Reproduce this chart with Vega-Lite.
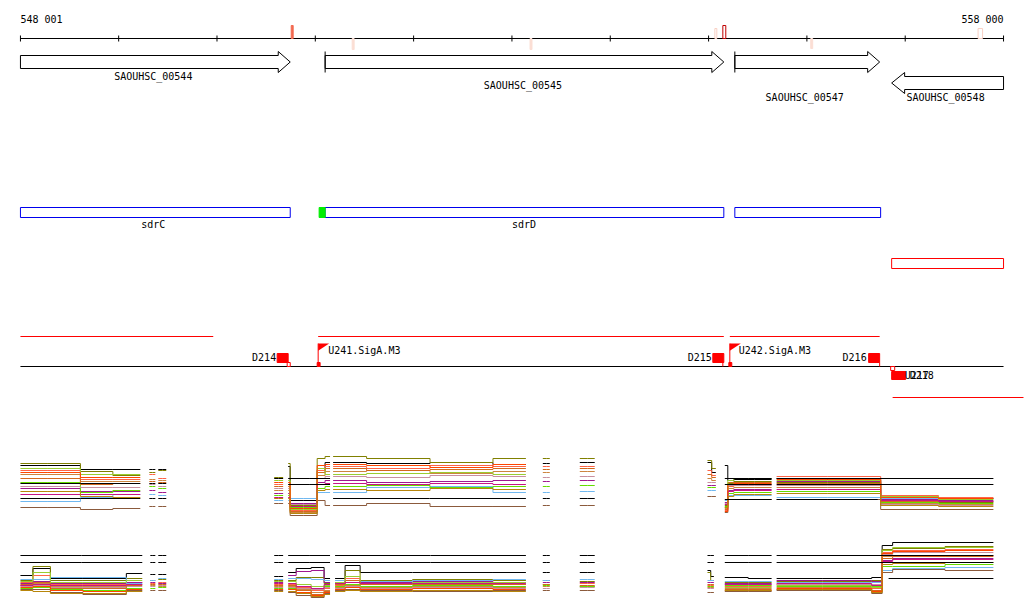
{
"$schema":"https://vega.github.io/schema/vega-lite/v6.json",
"width":1024,"height":611,"padding":0,
"autosize":{"type":"fit","contains":"padding"},
"background":"white",
"config":{"view":{"stroke":null},"text":{"font":"DejaVu Sans Mono","fontSize":10,"color":"black"}},
"resolve":{"scale":{"color":"independent","fill":"independent","stroke":"independent"}},
"datasets":{
"hl":[
{"k":"black","x":548001,"x2":558000,"y":38},
{"k":"black","x":548001,"x2":558000,"y":366},
{"k":"red","x":548001,"x2":549962,"y":336},
{"k":"red","x":551029,"x2":555155,"y":336},
{"k":"red","x":555216,"x2":556740,"y":336},
{"k":"red","x":556872,"x2":558203,"y":397}
],
"vl":[
{"k":"black","x":548001,"y":35,"y2":41},{"k":"black","x":549000,"y":35,"y2":41},{"k":"black","x":550000,"y":35,"y2":41},{"k":"black","x":551000,"y":35,"y2":41},{"k":"black","x":552000,"y":35,"y2":41},{"k":"black","x":553000,"y":35,"y2":41},{"k":"black","x":554000,"y":35,"y2":41},{"k":"black","x":555000,"y":35,"y2":41},{"k":"black","x":556000,"y":35,"y2":41},{"k":"black","x":557000,"y":35,"y2":41},{"k":"black","x":558000,"y":35,"y2":41},
{"k":"black","x":551100,"y":51,"y2":72},
{"k":"black","x":555267,"y":51,"y2":72},
{"k":"red","x":551029,"y":343,"y2":366},
{"k":"red","x":555216,"y":343,"y2":366},
{"k":"red","x":555145,"y":362,"y2":366},
{"k":"red","x":556740,"y":362,"y2":366}
],
"rects":[
{"k":"m1","x":550755,"x2":550775,"y":25,"y2":38},
{"k":"m2","x":551375,"x2":551395,"y":38,"y2":49},
{"k":"m2","x":553184,"x2":553204,"y":38,"y2":49},
{"k":"m3","x":555064,"x2":555084,"y":28,"y2":38},
{"k":"m4","x":555145,"x2":555175,"y":25,"y2":38},
{"k":"m2","x":556039,"x2":556059,"y":38,"y2":48},
{"k":"m3","x":557741,"x2":557787,"y":28,"y2":38},
{"k":"blue","x":548001,"x2":550745,"y":207,"y2":217},
{"k":"blue","x":551100,"x2":555155,"y":207,"y2":217},
{"k":"blue","x":555267,"x2":556750,"y":207,"y2":217},
{"k":"green","x":551039,"x2":551100,"y":207,"y2":217},
{"k":"redbox","x":556862,"x2":558000,"y":258,"y2":268},
{"k":"term","x":550612,"x2":550724,"y":353,"y2":362},
{"k":"termo","x":550714,"x2":550745,"y":362,"y2":366},
{"k":"term","x":555043,"x2":555155,"y":353,"y2":362},
{"k":"term","x":556628,"x2":556740,"y":353,"y2":362},
{"k":"term","x":551019,"x2":551049,"y":362,"y2":366},
{"k":"term","x":555206,"x2":555236,"y":362,"y2":366},
{"k":"term","x":556862,"x2":557004,"y":371,"y2":379},
{"k":"termo","x":556852,"x2":556893,"y":366,"y2":370}
],
"arrows":[
{"g":"a544","i":0,"x":548001,"y":55},{"g":"a544","i":1,"x":550623,"y":55},{"g":"a544","i":2,"x":550623,"y":51},{"g":"a544","i":3,"x":550745,"y":61.5},{"g":"a544","i":4,"x":550623,"y":72},{"g":"a544","i":5,"x":550623,"y":68},{"g":"a544","i":6,"x":548001,"y":68},{"g":"a544","i":7,"x":548001,"y":55},
{"g":"a545","i":0,"x":551100,"y":55},{"g":"a545","i":1,"x":555033,"y":55},{"g":"a545","i":2,"x":555033,"y":51},{"g":"a545","i":3,"x":555155,"y":61.5},{"g":"a545","i":4,"x":555033,"y":72},{"g":"a545","i":5,"x":555033,"y":68},{"g":"a545","i":6,"x":551100,"y":68},{"g":"a545","i":7,"x":551100,"y":55},
{"g":"a547","i":0,"x":555267,"y":55},{"g":"a547","i":1,"x":556618,"y":55},{"g":"a547","i":2,"x":556618,"y":51},{"g":"a547","i":3,"x":556740,"y":61.5},{"g":"a547","i":4,"x":556618,"y":72},{"g":"a547","i":5,"x":556618,"y":68},{"g":"a547","i":6,"x":555267,"y":68},{"g":"a547","i":7,"x":555267,"y":55},
{"g":"a548","i":0,"x":558000,"y":76},{"g":"a548","i":1,"x":556994,"y":76},{"g":"a548","i":2,"x":556994,"y":72},{"g":"a548","i":3,"x":556862,"y":82.5},{"g":"a548","i":4,"x":556994,"y":93},{"g":"a548","i":5,"x":556994,"y":89},{"g":"a548","i":6,"x":558000,"y":89},{"g":"a548","i":7,"x":558000,"y":76}
],
"flags":[{"x":551029,"y":343},{"x":555216,"y":343}],
"txtL":[
{"t":"548 001","x":548001,"y":19},
{"t":"U241.SigA.M3","x":551131,"y":350},
{"t":"U242.SigA.M3","x":555307,"y":350},
{"t":"U217","x":556994,"y":375},
{"t":"D218","x":557045,"y":375}
],
"txtC":[
{"t":"SAOUHSC_00544","x":549352,"y":76},
{"t":"SAOUHSC_00545","x":553112,"y":85},
{"t":"SAOUHSC_00547","x":555978,"y":97},
{"t":"SAOUHSC_00548","x":557410,"y":97},
{"t":"sdrC","x":549352,"y":224},
{"t":"sdrD","x":553122,"y":224}
],
"txtR":[
{"t":"558 000","x":558000,"y":19},
{"t":"D214","x":550602,"y":357},
{"t":"D215","x":555033,"y":357},
{"t":"D216","x":556608,"y":357}
],
"ex":[
{"s":"k","g":"tA","x":548001,"y":465},{"s":"k","g":"tA","x":548560,"y":465},{"s":"k","g":"tA","x":548662,"y":469},{"s":"k","g":"tA","x":549220,"y":469},
{"s":"k","g":"tB","x":549312,"y":469},{"s":"k","g":"tB","x":549373,"y":469},
{"s":"k","g":"tC","x":549403,"y":469},{"s":"k","g":"tC","x":549484,"y":469},
{"s":"k","g":"tD","x":550582,"y":478},{"s":"k","g":"tD","x":550673,"y":478},
{"s":"k","g":"tE","x":550724,"y":466},{"s":"k","g":"tE","x":550765,"y":500},{"s":"k","g":"tE","x":550989,"y":500},{"s":"k","g":"tE","x":551049,"y":470},{"s":"k","g":"tE","x":551150,"y":462},
{"s":"k","g":"tG","x":551181,"y":462},{"s":"k","g":"tG","x":551862,"y":463},{"s":"k","g":"tG","x":552472,"y":462},{"s":"k","g":"tG","x":553142,"y":464},
{"s":"k","g":"tH","x":553314,"y":463},{"s":"k","g":"tH","x":553385,"y":463},
{"s":"k","g":"tI","x":553690,"y":462},{"s":"k","g":"tI","x":553842,"y":462},
{"s":"k","g":"tJ","x":554989,"y":462},{"s":"k","g":"tJ","x":555074,"y":472},
{"s":"k","g":"tK","x":555165,"y":465},{"s":"k","g":"tK","x":555226,"y":480},{"s":"k","g":"tK","x":555287,"y":479},{"s":"k","g":"tK","x":555641,"y":479},
{"s":"k","g":"tL","x":555692,"y":478},{"s":"k","g":"tL","x":556720,"y":479},{"s":"k","g":"tL","x":556781,"y":497},{"s":"k","g":"tL","x":557897,"y":498},

{"s":"o","g":"tA","x":548001,"y":463},{"s":"o","g":"tA","x":548560,"y":463},{"s":"o","g":"tA","x":548662,"y":471},{"s":"o","g":"tA","x":549220,"y":475},
{"s":"o","g":"tB","x":549312,"y":472},{"s":"o","g":"tB","x":549373,"y":472},
{"s":"o","g":"tC","x":549403,"y":470},{"s":"o","g":"tC","x":549484,"y":470},
{"s":"o","g":"tD","x":550582,"y":477},{"s":"o","g":"tD","x":550673,"y":477},
{"s":"o","g":"tE","x":550724,"y":463},{"s":"o","g":"tE","x":550765,"y":505},{"s":"o","g":"tE","x":550989,"y":505},{"s":"o","g":"tE","x":551049,"y":458},{"s":"o","g":"tE","x":551150,"y":456},
{"s":"o","g":"tG","x":551181,"y":456},{"s":"o","g":"tG","x":551862,"y":458},{"s":"o","g":"tG","x":552472,"y":462},{"s":"o","g":"tG","x":553142,"y":458},
{"s":"o","g":"tH","x":553314,"y":458},{"s":"o","g":"tH","x":553385,"y":458},
{"s":"o","g":"tI","x":553690,"y":458},{"s":"o","g":"tI","x":553842,"y":458},
{"s":"o","g":"tJ","x":554989,"y":460},{"s":"o","g":"tJ","x":555074,"y":468},
{"s":"o","g":"tK","x":555165,"y":505},{"s":"o","g":"tK","x":555226,"y":483},{"s":"o","g":"tK","x":555287,"y":481},{"s":"o","g":"tK","x":555641,"y":481},
{"s":"o","g":"tL","x":555692,"y":482},{"s":"o","g":"tL","x":556720,"y":482},{"s":"o","g":"tL","x":556781,"y":500},{"s":"o","g":"tL","x":557897,"y":502},

{"s":"t","g":"tA","x":548001,"y":470},{"s":"t","g":"tA","x":548560,"y":470},{"s":"t","g":"tA","x":548662,"y":479},{"s":"t","g":"tA","x":549220,"y":479},
{"s":"t","g":"tB","x":549312,"y":474},{"s":"t","g":"tB","x":549373,"y":474},
{"s":"t","g":"tC","x":549403,"y":478},{"s":"t","g":"tC","x":549484,"y":478},
{"s":"t","g":"tD","x":550582,"y":484},{"s":"t","g":"tD","x":550673,"y":484},
{"s":"t","g":"tE","x":550724,"y":484},{"s":"t","g":"tE","x":550765,"y":510},{"s":"t","g":"tE","x":550989,"y":510},{"s":"t","g":"tE","x":551049,"y":470},{"s":"t","g":"tE","x":551150,"y":466},
{"s":"t","g":"tG","x":551181,"y":466},{"s":"t","g":"tG","x":551862,"y":468},{"s":"t","g":"tG","x":552472,"y":465},{"s":"t","g":"tG","x":553142,"y":466},
{"s":"t","g":"tH","x":553314,"y":466},{"s":"t","g":"tH","x":553385,"y":466},
{"s":"t","g":"tI","x":553690,"y":466},{"s":"t","g":"tI","x":553842,"y":466},
{"s":"t","g":"tJ","x":554989,"y":470},{"s":"t","g":"tJ","x":555074,"y":475},
{"s":"t","g":"tK","x":555165,"y":510},{"s":"t","g":"tK","x":555226,"y":486},{"s":"t","g":"tK","x":555287,"y":484},{"s":"t","g":"tK","x":555641,"y":484},
{"s":"t","g":"tL","x":555692,"y":476},{"s":"t","g":"tL","x":556720,"y":476},{"s":"t","g":"tL","x":556781,"y":495},{"s":"t","g":"tL","x":557897,"y":497},

{"s":"p","g":"tA","x":548001,"y":474},{"s":"p","g":"tA","x":548560,"y":474},{"s":"p","g":"tA","x":548662,"y":481},{"s":"p","g":"tA","x":549220,"y":481},
{"s":"p","g":"tB","x":549312,"y":479},{"s":"p","g":"tB","x":549373,"y":479},
{"s":"p","g":"tC","x":549403,"y":480},{"s":"p","g":"tC","x":549484,"y":480},
{"s":"p","g":"tD","x":550582,"y":490},{"s":"p","g":"tD","x":550673,"y":490},
{"s":"p","g":"tE","x":550724,"y":490},{"s":"p","g":"tE","x":550765,"y":512},{"s":"p","g":"tE","x":550989,"y":512},{"s":"p","g":"tE","x":551049,"y":475},{"s":"p","g":"tE","x":551150,"y":471},
{"s":"p","g":"tG","x":551181,"y":471},{"s":"p","g":"tG","x":551862,"y":470},{"s":"p","g":"tG","x":552472,"y":473},{"s":"p","g":"tG","x":553142,"y":471},
{"s":"p","g":"tH","x":553314,"y":472},{"s":"p","g":"tH","x":553385,"y":472},
{"s":"p","g":"tI","x":553690,"y":471},{"s":"p","g":"tI","x":553842,"y":471},
{"s":"p","g":"tJ","x":554989,"y":478},{"s":"p","g":"tJ","x":555074,"y":480},
{"s":"p","g":"tK","x":555165,"y":508},{"s":"p","g":"tK","x":555226,"y":488},{"s":"p","g":"tK","x":555287,"y":487},{"s":"p","g":"tK","x":555641,"y":487},
{"s":"p","g":"tL","x":555692,"y":487},{"s":"p","g":"tL","x":556720,"y":487},{"s":"p","g":"tL","x":556781,"y":503},{"s":"p","g":"tL","x":557897,"y":504},

{"s":"m","g":"tA","x":548001,"y":488},{"s":"m","g":"tA","x":548560,"y":488},{"s":"m","g":"tA","x":548662,"y":491},{"s":"m","g":"tA","x":549220,"y":491},
{"s":"m","g":"tB","x":549312,"y":490},{"s":"m","g":"tB","x":549373,"y":490},
{"s":"m","g":"tC","x":549403,"y":492},{"s":"m","g":"tC","x":549484,"y":492},
{"s":"m","g":"tD","x":550582,"y":493},{"s":"m","g":"tD","x":550673,"y":493},
{"s":"m","g":"tE","x":550724,"y":493},{"s":"m","g":"tE","x":550765,"y":503},{"s":"m","g":"tE","x":550989,"y":503},{"s":"m","g":"tE","x":551049,"y":482},{"s":"m","g":"tE","x":551150,"y":480},
{"s":"m","g":"tG","x":551181,"y":480},{"s":"m","g":"tG","x":551862,"y":482},{"s":"m","g":"tG","x":552472,"y":481},{"s":"m","g":"tG","x":553142,"y":480},
{"s":"m","g":"tH","x":553314,"y":481},{"s":"m","g":"tH","x":553385,"y":481},
{"s":"m","g":"tI","x":553690,"y":480},{"s":"m","g":"tI","x":553842,"y":480},
{"s":"m","g":"tJ","x":554989,"y":485},{"s":"m","g":"tJ","x":555074,"y":485},
{"s":"m","g":"tK","x":555165,"y":502},{"s":"m","g":"tK","x":555226,"y":490},{"s":"m","g":"tK","x":555287,"y":489},{"s":"m","g":"tK","x":555641,"y":489},
{"s":"m","g":"tL","x":555692,"y":481},{"s":"m","g":"tL","x":556720,"y":481},{"s":"m","g":"tL","x":556781,"y":499},{"s":"m","g":"tL","x":557897,"y":500},

{"s":"b","g":"tA","x":548001,"y":501},{"s":"b","g":"tA","x":548560,"y":501},{"s":"b","g":"tA","x":548662,"y":497},{"s":"b","g":"tA","x":549220,"y":494},
{"s":"b","g":"tB","x":549312,"y":494},{"s":"b","g":"tB","x":549373,"y":494},
{"s":"b","g":"tC","x":549403,"y":495},{"s":"b","g":"tC","x":549484,"y":495},
{"s":"b","g":"tD","x":550582,"y":500},{"s":"b","g":"tD","x":550673,"y":500},
{"s":"b","g":"tE","x":550724,"y":500},{"s":"b","g":"tE","x":550765,"y":498},{"s":"b","g":"tE","x":550989,"y":498},{"s":"b","g":"tE","x":551049,"y":492},{"s":"b","g":"tE","x":551150,"y":492},
{"s":"b","g":"tG","x":551181,"y":492},{"s":"b","g":"tG","x":551862,"y":487},{"s":"b","g":"tG","x":552472,"y":486},{"s":"b","g":"tG","x":553142,"y":492},
{"s":"b","g":"tH","x":553314,"y":492},{"s":"b","g":"tH","x":553385,"y":492},
{"s":"b","g":"tI","x":553690,"y":491},{"s":"b","g":"tI","x":553842,"y":491},
{"s":"b","g":"tJ","x":554989,"y":490},{"s":"b","g":"tJ","x":555074,"y":490},
{"s":"b","g":"tK","x":555165,"y":500},{"s":"b","g":"tK","x":555226,"y":495},{"s":"b","g":"tK","x":555287,"y":495},{"s":"b","g":"tK","x":555641,"y":495},
{"s":"b","g":"tL","x":555692,"y":497},{"s":"b","g":"tL","x":556720,"y":497},{"s":"b","g":"tL","x":556781,"y":498},{"s":"b","g":"tL","x":557897,"y":498},

{"s":"g","g":"tA","x":548001,"y":482},{"s":"g","g":"tA","x":548560,"y":482},{"s":"g","g":"tA","x":548662,"y":492},{"s":"g","g":"tA","x":549220,"y":490},
{"s":"g","g":"tB","x":549312,"y":486},{"s":"g","g":"tB","x":549373,"y":486},
{"s":"g","g":"tC","x":549403,"y":488},{"s":"g","g":"tC","x":549484,"y":488},
{"s":"g","g":"tD","x":550582,"y":495},{"s":"g","g":"tD","x":550673,"y":495},
{"s":"g","g":"tE","x":550724,"y":495},{"s":"g","g":"tE","x":550765,"y":507},{"s":"g","g":"tE","x":550989,"y":507},{"s":"g","g":"tE","x":551049,"y":488},{"s":"g","g":"tE","x":551150,"y":486},
{"s":"g","g":"tG","x":551181,"y":486},{"s":"g","g":"tG","x":551862,"y":485},{"s":"g","g":"tG","x":552472,"y":487},{"s":"g","g":"tG","x":553142,"y":486},
{"s":"g","g":"tH","x":553314,"y":486},{"s":"g","g":"tH","x":553385,"y":486},
{"s":"g","g":"tI","x":553690,"y":485},{"s":"g","g":"tI","x":553842,"y":485},
{"s":"g","g":"tJ","x":554989,"y":487},{"s":"g","g":"tJ","x":555074,"y":487},
{"s":"g","g":"tK","x":555165,"y":506},{"s":"g","g":"tK","x":555226,"y":493},{"s":"g","g":"tK","x":555287,"y":492},{"s":"g","g":"tK","x":555641,"y":492},
{"s":"g","g":"tL","x":555692,"y":491},{"s":"g","g":"tL","x":556720,"y":491},{"s":"g","g":"tL","x":556781,"y":502},{"s":"g","g":"tL","x":557897,"y":503},

{"s":"r","g":"tA","x":548001,"y":486},{"s":"r","g":"tA","x":548560,"y":486},{"s":"r","g":"tA","x":548662,"y":487},{"s":"r","g":"tA","x":549220,"y":487},
{"s":"r","g":"tB","x":549312,"y":484},{"s":"r","g":"tB","x":549373,"y":484},
{"s":"r","g":"tC","x":549403,"y":486},{"s":"r","g":"tC","x":549484,"y":486},
{"s":"r","g":"tD","x":550582,"y":488},{"s":"r","g":"tD","x":550673,"y":488},
{"s":"r","g":"tE","x":550724,"y":488},{"s":"r","g":"tE","x":550765,"y":504},{"s":"r","g":"tE","x":550989,"y":504},{"s":"r","g":"tE","x":551049,"y":478},{"s":"r","g":"tE","x":551150,"y":476},
{"s":"r","g":"tG","x":551181,"y":476},{"s":"r","g":"tG","x":551862,"y":477},{"s":"r","g":"tG","x":552472,"y":475},{"s":"r","g":"tG","x":553142,"y":476},
{"s":"r","g":"tH","x":553314,"y":477},{"s":"r","g":"tH","x":553385,"y":477},
{"s":"r","g":"tI","x":553690,"y":476},{"s":"r","g":"tI","x":553842,"y":476},
{"s":"r","g":"tJ","x":554989,"y":482},{"s":"r","g":"tJ","x":555074,"y":482},
{"s":"r","g":"tK","x":555165,"y":503},{"s":"r","g":"tK","x":555226,"y":485},{"s":"r","g":"tK","x":555287,"y":485},{"s":"r","g":"tK","x":555641,"y":485},
{"s":"r","g":"tL","x":555692,"y":485},{"s":"r","g":"tL","x":556720,"y":485},{"s":"r","g":"tL","x":556781,"y":504},{"s":"r","g":"tL","x":557897,"y":505},

{"s":"n","g":"tA","x":548001,"y":507},{"s":"n","g":"tA","x":548560,"y":507},{"s":"n","g":"tA","x":548662,"y":509},{"s":"n","g":"tA","x":549220,"y":508},
{"s":"n","g":"tB","x":549312,"y":506},{"s":"n","g":"tB","x":549373,"y":506},
{"s":"n","g":"tC","x":549403,"y":506},{"s":"n","g":"tC","x":549484,"y":506},
{"s":"n","g":"tD","x":550582,"y":503},{"s":"n","g":"tD","x":550673,"y":503},
{"s":"n","g":"tE","x":550724,"y":503},{"s":"n","g":"tE","x":550765,"y":515},{"s":"n","g":"tE","x":550989,"y":515},{"s":"n","g":"tE","x":551049,"y":500},{"s":"n","g":"tE","x":551150,"y":505},
{"s":"n","g":"tG","x":551181,"y":505},{"s":"n","g":"tG","x":551862,"y":503},{"s":"n","g":"tG","x":552472,"y":506},{"s":"n","g":"tG","x":553142,"y":506},
{"s":"n","g":"tH","x":553314,"y":505},{"s":"n","g":"tH","x":553385,"y":505},
{"s":"n","g":"tI","x":553690,"y":505},{"s":"n","g":"tI","x":553842,"y":505},
{"s":"n","g":"tJ","x":554989,"y":496},{"s":"n","g":"tJ","x":555074,"y":496},
{"s":"n","g":"tK","x":555165,"y":512},{"s":"n","g":"tK","x":555226,"y":499},{"s":"n","g":"tK","x":555287,"y":499},{"s":"n","g":"tK","x":555641,"y":499},
{"s":"n","g":"tL","x":555692,"y":499},{"s":"n","g":"tL","x":556720,"y":499},{"s":"n","g":"tL","x":556781,"y":509},{"s":"n","g":"tL","x":557897,"y":509},

{"s":"c","g":"tA","x":548001,"y":478},{"s":"c","g":"tA","x":548560,"y":478},{"s":"c","g":"tA","x":548662,"y":484},{"s":"c","g":"tA","x":549220,"y":483},
{"s":"c","g":"tB","x":549312,"y":481},{"s":"c","g":"tB","x":549373,"y":481},
{"s":"c","g":"tC","x":549403,"y":482},{"s":"c","g":"tC","x":549484,"y":482},
{"s":"c","g":"tD","x":550582,"y":486},{"s":"c","g":"tD","x":550673,"y":486},
{"s":"c","g":"tE","x":550724,"y":486},{"s":"c","g":"tE","x":550765,"y":511},{"s":"c","g":"tE","x":550989,"y":511},{"s":"c","g":"tE","x":551049,"y":472},{"s":"c","g":"tE","x":551150,"y":468},
{"s":"c","g":"tG","x":551181,"y":468},{"s":"c","g":"tG","x":551862,"y":470},{"s":"c","g":"tG","x":552472,"y":469},{"s":"c","g":"tG","x":553142,"y":468},
{"s":"c","g":"tH","x":553314,"y":469},{"s":"c","g":"tH","x":553385,"y":469},
{"s":"c","g":"tI","x":553690,"y":468},{"s":"c","g":"tI","x":553842,"y":468},
{"s":"c","g":"tJ","x":554989,"y":474},{"s":"c","g":"tJ","x":555074,"y":477},
{"s":"c","g":"tK","x":555165,"y":509},{"s":"c","g":"tK","x":555226,"y":482},{"s":"c","g":"tK","x":555287,"y":482},{"s":"c","g":"tK","x":555641,"y":482},
{"s":"c","g":"tL","x":555692,"y":483},{"s":"c","g":"tL","x":556720,"y":483},{"s":"c","g":"tL","x":556781,"y":501},{"s":"c","g":"tL","x":557897,"y":501},

{"s":"y","g":"tA","x":548001,"y":468},{"s":"y","g":"tA","x":548560,"y":468},{"s":"y","g":"tA","x":548662,"y":474},{"s":"y","g":"tA","x":549220,"y":474},
{"s":"y","g":"tD","x":550582,"y":480},{"s":"y","g":"tD","x":550673,"y":480},
{"s":"y","g":"tE","x":550724,"y":480},{"s":"y","g":"tE","x":550765,"y":509},{"s":"y","g":"tE","x":550989,"y":509},{"s":"y","g":"tE","x":551049,"y":468},{"s":"y","g":"tE","x":551150,"y":474},
{"s":"y","g":"tG","x":551181,"y":474},{"s":"y","g":"tG","x":551862,"y":473},{"s":"y","g":"tG","x":552472,"y":472},{"s":"y","g":"tG","x":553142,"y":474},
{"s":"y","g":"tK","x":555165,"y":507},{"s":"y","g":"tK","x":555226,"y":480},{"s":"y","g":"tK","x":555287,"y":478},{"s":"y","g":"tK","x":555641,"y":478},
{"s":"y","g":"tL","x":555692,"y":480},{"s":"y","g":"tL","x":556720,"y":480},{"s":"y","g":"tL","x":556781,"y":496},{"s":"y","g":"tL","x":557897,"y":499},

{"s":"v","g":"tA","x":548001,"y":494},{"s":"v","g":"tA","x":548560,"y":494},{"s":"v","g":"tA","x":548662,"y":494},{"s":"v","g":"tA","x":549220,"y":494},
{"s":"v","g":"tD","x":550582,"y":497},{"s":"v","g":"tD","x":550673,"y":497},
{"s":"v","g":"tE","x":550724,"y":497},{"s":"v","g":"tE","x":550765,"y":506},{"s":"v","g":"tE","x":550989,"y":506},{"s":"v","g":"tE","x":551049,"y":484},{"s":"v","g":"tE","x":551150,"y":483},
{"s":"v","g":"tG","x":551181,"y":483},{"s":"v","g":"tG","x":551862,"y":484},{"s":"v","g":"tG","x":552472,"y":483},{"s":"v","g":"tG","x":553142,"y":484},
{"s":"v","g":"tK","x":555165,"y":504},{"s":"v","g":"tK","x":555226,"y":491},{"s":"v","g":"tK","x":555287,"y":490},{"s":"v","g":"tK","x":555641,"y":490},
{"s":"v","g":"tL","x":555692,"y":489},{"s":"v","g":"tL","x":556720,"y":489},{"s":"v","g":"tL","x":556781,"y":500},{"s":"v","g":"tL","x":557897,"y":501},

{"s":"q","g":"tA","x":548001,"y":472},{"s":"q","g":"tA","x":548560,"y":472},{"s":"q","g":"tA","x":548662,"y":477},{"s":"q","g":"tA","x":549220,"y":477},
{"s":"q","g":"tD","x":550582,"y":482},{"s":"q","g":"tD","x":550673,"y":482},
{"s":"q","g":"tE","x":550724,"y":482},{"s":"q","g":"tE","x":550765,"y":508},{"s":"q","g":"tE","x":550989,"y":508},{"s":"q","g":"tE","x":551049,"y":465},{"s":"q","g":"tE","x":551150,"y":464},
{"s":"q","g":"tG","x":551181,"y":464},{"s":"q","g":"tG","x":551862,"y":465},{"s":"q","g":"tG","x":552472,"y":467},{"s":"q","g":"tG","x":553142,"y":464},
{"s":"q","g":"tK","x":555165,"y":511},{"s":"q","g":"tK","x":555226,"y":484},{"s":"q","g":"tK","x":555287,"y":483},{"s":"q","g":"tK","x":555641,"y":483},
{"s":"q","g":"tL","x":555692,"y":479},{"s":"q","g":"tL","x":556720,"y":479},{"s":"q","g":"tL","x":556781,"y":497},{"s":"q","g":"tL","x":557897,"y":498},

{"s":"d","g":"tA","x":548001,"y":491},{"s":"d","g":"tA","x":548560,"y":491},{"s":"d","g":"tA","x":548662,"y":496},{"s":"d","g":"tA","x":549220,"y":497},
{"s":"d","g":"tD","x":550582,"y":498},{"s":"d","g":"tD","x":550673,"y":498},
{"s":"d","g":"tE","x":550724,"y":498},{"s":"d","g":"tE","x":550765,"y":513},{"s":"d","g":"tE","x":550989,"y":513},{"s":"d","g":"tE","x":551049,"y":490},{"s":"d","g":"tE","x":551150,"y":489},
{"s":"d","g":"tG","x":551181,"y":489},{"s":"d","g":"tG","x":551862,"y":490},{"s":"d","g":"tG","x":552472,"y":488},{"s":"d","g":"tG","x":553142,"y":489},
{"s":"d","g":"tK","x":555165,"y":507},{"s":"d","g":"tK","x":555226,"y":496},{"s":"d","g":"tK","x":555287,"y":494},{"s":"d","g":"tK","x":555641,"y":494},
{"s":"d","g":"tL","x":555692,"y":493},{"s":"d","g":"tL","x":556720,"y":493},{"s":"d","g":"tL","x":556781,"y":505},{"s":"d","g":"tL","x":557897,"y":506},

{"s":"k","g":"x1a","x":548001,"y":483},{"s":"k","g":"x1a","x":549220,"y":483},
{"s":"k","g":"x1b","x":549312,"y":483},{"s":"k","g":"x1b","x":549373,"y":483},
{"s":"k","g":"x1c","x":549403,"y":483},{"s":"k","g":"x1c","x":549484,"y":483},
{"s":"k","g":"x2a","x":548001,"y":498},{"s":"k","g":"x2a","x":549220,"y":498},
{"s":"k","g":"x2b","x":549312,"y":498},{"s":"k","g":"x2b","x":549373,"y":498},
{"s":"k","g":"x2c","x":549403,"y":498},{"s":"k","g":"x2c","x":549484,"y":498},
{"s":"k","g":"x2g","x":551181,"y":498},{"s":"k","g":"x2g","x":553142,"y":498},
{"s":"k","g":"x2h","x":553314,"y":498},{"s":"k","g":"x2h","x":553385,"y":498},
{"s":"k","g":"x2i","x":553690,"y":498},{"s":"k","g":"x2i","x":553842,"y":498},
{"s":"k","g":"x3e","x":550724,"y":478},{"s":"k","g":"x3e","x":551150,"y":478},
{"s":"k","g":"x3k","x":555165,"y":478},{"s":"k","g":"x3k","x":555641,"y":478},
{"s":"k","g":"x3l","x":555692,"y":478},{"s":"k","g":"x3l","x":557897,"y":478},
{"s":"k","g":"x4e","x":550724,"y":484},{"s":"k","g":"x4e","x":551150,"y":484},
{"s":"k","g":"x4k","x":555165,"y":484},{"s":"k","g":"x4k","x":555641,"y":484},
{"s":"k","g":"x4l","x":555692,"y":484},{"s":"k","g":"x4l","x":557897,"y":484},
{"s":"k","g":"x5k","x":555165,"y":499},{"s":"k","g":"x5k","x":555641,"y":499},
{"s":"k","g":"x5l","x":555692,"y":499},{"s":"k","g":"x5l","x":556720,"y":499},

{"s":"k","g":"bA","x":548001,"y":575},{"s":"k","g":"bA","x":548255,"y":568},{"s":"k","g":"bA","x":548357,"y":578},{"s":"k","g":"bA","x":548916,"y":578},{"s":"k","g":"bA","x":549240,"y":573},
{"s":"k","g":"bB","x":549322,"y":574},{"s":"k","g":"bB","x":549373,"y":574},
{"s":"k","g":"bC","x":549403,"y":574},{"s":"k","g":"bC","x":549484,"y":574},
{"s":"k","g":"bD","x":550582,"y":576},{"s":"k","g":"bD","x":550673,"y":576},
{"s":"k","g":"bE","x":550724,"y":572},{"s":"k","g":"bE","x":550887,"y":568},{"s":"k","g":"bE","x":551029,"y":567},{"s":"k","g":"bE","x":551150,"y":578},
{"s":"k","g":"bG","x":551201,"y":578},{"s":"k","g":"bG","x":551405,"y":565},{"s":"k","g":"bG","x":551507,"y":572},{"s":"k","g":"bG","x":552472,"y":572},{"s":"k","g":"bG","x":553142,"y":572},
{"s":"k","g":"bH","x":553314,"y":572},{"s":"k","g":"bH","x":553385,"y":572},
{"s":"k","g":"bI","x":553690,"y":572},{"s":"k","g":"bI","x":553842,"y":572},
{"s":"k","g":"bJ","x":554989,"y":570},{"s":"k","g":"bJ","x":555054,"y":576},
{"s":"k","g":"bK","x":555165,"y":577},{"s":"k","g":"bK","x":555641,"y":578},
{"s":"k","g":"bL","x":555692,"y":578},{"s":"k","g":"bL","x":556618,"y":578},{"s":"k","g":"bL","x":556700,"y":577},{"s":"k","g":"bL","x":556831,"y":545},{"s":"k","g":"bL","x":556913,"y":542},{"s":"k","g":"bL","x":557897,"y":542},

{"s":"o","g":"bA","x":548001,"y":580},{"s":"o","g":"bA","x":548255,"y":566},{"s":"o","g":"bA","x":548357,"y":580},{"s":"o","g":"bA","x":548916,"y":580},{"s":"o","g":"bA","x":549240,"y":578},
{"s":"o","g":"bB","x":549322,"y":580},{"s":"o","g":"bB","x":549373,"y":580},
{"s":"o","g":"bC","x":549403,"y":579},{"s":"o","g":"bC","x":549484,"y":579},
{"s":"o","g":"bD","x":550582,"y":580},{"s":"o","g":"bD","x":550673,"y":580},
{"s":"o","g":"bE","x":550724,"y":580},{"s":"o","g":"bE","x":550887,"y":577},{"s":"o","g":"bE","x":551029,"y":577},{"s":"o","g":"bE","x":551150,"y":583},
{"s":"o","g":"bG","x":551201,"y":583},{"s":"o","g":"bG","x":551405,"y":570},{"s":"o","g":"bG","x":551507,"y":580},{"s":"o","g":"bG","x":552472,"y":579},{"s":"o","g":"bG","x":553142,"y":580},
{"s":"o","g":"bH","x":553314,"y":580},{"s":"o","g":"bH","x":553385,"y":580},
{"s":"o","g":"bI","x":553690,"y":581},{"s":"o","g":"bI","x":553842,"y":581},
{"s":"o","g":"bJ","x":554989,"y":572},{"s":"o","g":"bJ","x":555054,"y":580},
{"s":"o","g":"bK","x":555165,"y":582},{"s":"o","g":"bK","x":555641,"y":582},
{"s":"o","g":"bL","x":555692,"y":581},{"s":"o","g":"bL","x":556618,"y":581},{"s":"o","g":"bL","x":556700,"y":580},{"s":"o","g":"bL","x":556831,"y":549},{"s":"o","g":"bL","x":556913,"y":548},{"s":"o","g":"bL","x":557897,"y":546},

{"s":"t","g":"bA","x":548001,"y":582},{"s":"t","g":"bA","x":548255,"y":575},{"s":"t","g":"bA","x":548357,"y":584},{"s":"t","g":"bA","x":548916,"y":584},{"s":"t","g":"bA","x":549240,"y":582},
{"s":"t","g":"bB","x":549322,"y":583},{"s":"t","g":"bB","x":549373,"y":583},
{"s":"t","g":"bC","x":549403,"y":582},{"s":"t","g":"bC","x":549484,"y":582},
{"s":"t","g":"bD","x":550582,"y":584},{"s":"t","g":"bD","x":550673,"y":584},
{"s":"t","g":"bE","x":550724,"y":584},{"s":"t","g":"bE","x":550887,"y":587},{"s":"t","g":"bE","x":551029,"y":590},{"s":"t","g":"bE","x":551150,"y":588},
{"s":"t","g":"bG","x":551201,"y":585},{"s":"t","g":"bG","x":551405,"y":578},{"s":"t","g":"bG","x":551507,"y":584},{"s":"t","g":"bG","x":552472,"y":583},{"s":"t","g":"bG","x":553142,"y":584},
{"s":"t","g":"bH","x":553314,"y":584},{"s":"t","g":"bH","x":553385,"y":584},
{"s":"t","g":"bI","x":553690,"y":583},{"s":"t","g":"bI","x":553842,"y":583},
{"s":"t","g":"bJ","x":554989,"y":585},{"s":"t","g":"bJ","x":555054,"y":585},
{"s":"t","g":"bK","x":555165,"y":586},{"s":"t","g":"bK","x":555641,"y":586},
{"s":"t","g":"bL","x":555692,"y":584},{"s":"t","g":"bL","x":556618,"y":584},{"s":"t","g":"bL","x":556700,"y":588},{"s":"t","g":"bL","x":556831,"y":552},{"s":"t","g":"bL","x":556913,"y":550},{"s":"t","g":"bL","x":557897,"y":549},

{"s":"p","g":"bA","x":548001,"y":585},{"s":"p","g":"bA","x":548255,"y":583},{"s":"p","g":"bA","x":548357,"y":586},{"s":"p","g":"bA","x":548916,"y":586},{"s":"p","g":"bA","x":549240,"y":584},
{"s":"p","g":"bB","x":549322,"y":585},{"s":"p","g":"bB","x":549373,"y":585},
{"s":"p","g":"bC","x":549403,"y":586},{"s":"p","g":"bC","x":549484,"y":586},
{"s":"p","g":"bD","x":550582,"y":586},{"s":"p","g":"bD","x":550673,"y":586},
{"s":"p","g":"bE","x":550724,"y":586},{"s":"p","g":"bE","x":550887,"y":589},{"s":"p","g":"bE","x":551029,"y":592},{"s":"p","g":"bE","x":551150,"y":590},
{"s":"p","g":"bG","x":551201,"y":587},{"s":"p","g":"bG","x":551405,"y":585},{"s":"p","g":"bG","x":551507,"y":587},{"s":"p","g":"bG","x":552472,"y":586},{"s":"p","g":"bG","x":553142,"y":587},
{"s":"p","g":"bH","x":553314,"y":586},{"s":"p","g":"bH","x":553385,"y":586},
{"s":"p","g":"bI","x":553690,"y":586},{"s":"p","g":"bI","x":553842,"y":586},
{"s":"p","g":"bJ","x":554989,"y":587},{"s":"p","g":"bJ","x":555054,"y":587},
{"s":"p","g":"bK","x":555165,"y":588},{"s":"p","g":"bK","x":555641,"y":588},
{"s":"p","g":"bL","x":555692,"y":587},{"s":"p","g":"bL","x":556618,"y":587},{"s":"p","g":"bL","x":556700,"y":590},{"s":"p","g":"bL","x":556831,"y":556},{"s":"p","g":"bL","x":556913,"y":555},{"s":"p","g":"bL","x":557897,"y":555},

{"s":"m","g":"bA","x":548001,"y":583},{"s":"m","g":"bA","x":548255,"y":581},{"s":"m","g":"bA","x":548357,"y":583},{"s":"m","g":"bA","x":548916,"y":583},{"s":"m","g":"bA","x":549240,"y":582},
{"s":"m","g":"bB","x":549322,"y":582},{"s":"m","g":"bB","x":549373,"y":582},
{"s":"m","g":"bC","x":549403,"y":583},{"s":"m","g":"bC","x":549484,"y":583},
{"s":"m","g":"bD","x":550582,"y":582},{"s":"m","g":"bD","x":550673,"y":582},
{"s":"m","g":"bE","x":550724,"y":575},{"s":"m","g":"bE","x":550887,"y":571},{"s":"m","g":"bE","x":551029,"y":570},{"s":"m","g":"bE","x":551150,"y":582},
{"s":"m","g":"bG","x":551201,"y":582},{"s":"m","g":"bG","x":551405,"y":580},{"s":"m","g":"bG","x":551507,"y":582},{"s":"m","g":"bG","x":552472,"y":581},{"s":"m","g":"bG","x":553142,"y":582},
{"s":"m","g":"bH","x":553314,"y":582},{"s":"m","g":"bH","x":553385,"y":582},
{"s":"m","g":"bI","x":553690,"y":582},{"s":"m","g":"bI","x":553842,"y":582},
{"s":"m","g":"bJ","x":554989,"y":582},{"s":"m","g":"bJ","x":555054,"y":582},
{"s":"m","g":"bK","x":555165,"y":583},{"s":"m","g":"bK","x":555641,"y":583},
{"s":"m","g":"bL","x":555692,"y":580},{"s":"m","g":"bL","x":556618,"y":580},{"s":"m","g":"bL","x":556700,"y":581},{"s":"m","g":"bL","x":556831,"y":560},{"s":"m","g":"bL","x":556913,"y":558},{"s":"m","g":"bL","x":557897,"y":558},

{"s":"b","g":"bA","x":548001,"y":579},{"s":"b","g":"bA","x":548255,"y":579},{"s":"b","g":"bA","x":548357,"y":577},{"s":"b","g":"bA","x":548916,"y":577},{"s":"b","g":"bA","x":549240,"y":583},
{"s":"b","g":"bB","x":549322,"y":580},{"s":"b","g":"bB","x":549373,"y":580},
{"s":"b","g":"bC","x":549403,"y":578},{"s":"b","g":"bC","x":549484,"y":578},
{"s":"b","g":"bD","x":550582,"y":579},{"s":"b","g":"bD","x":550673,"y":579},
{"s":"b","g":"bE","x":550724,"y":578},{"s":"b","g":"bE","x":550887,"y":578},{"s":"b","g":"bE","x":551029,"y":579},{"s":"b","g":"bE","x":551150,"y":580},
{"s":"b","g":"bG","x":551201,"y":580},{"s":"b","g":"bG","x":551405,"y":580},{"s":"b","g":"bG","x":551507,"y":581},{"s":"b","g":"bG","x":552472,"y":580},{"s":"b","g":"bG","x":553142,"y":579},
{"s":"b","g":"bH","x":553314,"y":580},{"s":"b","g":"bH","x":553385,"y":580},
{"s":"b","g":"bI","x":553690,"y":579},{"s":"b","g":"bI","x":553842,"y":579},
{"s":"b","g":"bJ","x":554989,"y":580},{"s":"b","g":"bJ","x":555054,"y":580},
{"s":"b","g":"bK","x":555165,"y":581},{"s":"b","g":"bK","x":555641,"y":581},
{"s":"b","g":"bL","x":555692,"y":582},{"s":"b","g":"bL","x":556618,"y":582},{"s":"b","g":"bL","x":556700,"y":582},{"s":"b","g":"bL","x":556831,"y":570},{"s":"b","g":"bL","x":556913,"y":568},{"s":"b","g":"bL","x":557897,"y":567},

{"s":"g","g":"bA","x":548001,"y":588},{"s":"g","g":"bA","x":548255,"y":587},{"s":"g","g":"bA","x":548357,"y":589},{"s":"g","g":"bA","x":548916,"y":590},{"s":"g","g":"bA","x":549240,"y":588},
{"s":"g","g":"bB","x":549322,"y":588},{"s":"g","g":"bB","x":549373,"y":588},
{"s":"g","g":"bC","x":549403,"y":587},{"s":"g","g":"bC","x":549484,"y":587},
{"s":"g","g":"bD","x":550582,"y":588},{"s":"g","g":"bD","x":550673,"y":588},
{"s":"g","g":"bE","x":550724,"y":588},{"s":"g","g":"bE","x":550887,"y":590},{"s":"g","g":"bE","x":551029,"y":588},{"s":"g","g":"bE","x":551150,"y":586},
{"s":"g","g":"bG","x":551201,"y":586},{"s":"g","g":"bG","x":551405,"y":584},{"s":"g","g":"bG","x":551507,"y":586},{"s":"g","g":"bG","x":552472,"y":585},{"s":"g","g":"bG","x":553142,"y":586},
{"s":"g","g":"bH","x":553314,"y":585},{"s":"g","g":"bH","x":553385,"y":585},
{"s":"g","g":"bI","x":553690,"y":586},{"s":"g","g":"bI","x":553842,"y":586},
{"s":"g","g":"bJ","x":554989,"y":586},{"s":"g","g":"bJ","x":555054,"y":586},
{"s":"g","g":"bK","x":555165,"y":585},{"s":"g","g":"bK","x":555641,"y":585},
{"s":"g","g":"bL","x":555692,"y":586},{"s":"g","g":"bL","x":556618,"y":586},{"s":"g","g":"bL","x":556700,"y":586},{"s":"g","g":"bL","x":556831,"y":566},{"s":"g","g":"bL","x":556913,"y":566},{"s":"g","g":"bL","x":557897,"y":564},

{"s":"r","g":"bA","x":548001,"y":586},{"s":"r","g":"bA","x":548255,"y":585},{"s":"r","g":"bA","x":548357,"y":587},{"s":"r","g":"bA","x":548916,"y":587},{"s":"r","g":"bA","x":549240,"y":586},
{"s":"r","g":"bB","x":549322,"y":586},{"s":"r","g":"bB","x":549373,"y":586},
{"s":"r","g":"bC","x":549403,"y":585},{"s":"r","g":"bC","x":549484,"y":585},
{"s":"r","g":"bD","x":550582,"y":587},{"s":"r","g":"bD","x":550673,"y":587},
{"s":"r","g":"bE","x":550724,"y":587},{"s":"r","g":"bE","x":550887,"y":588},{"s":"r","g":"bE","x":551029,"y":589},{"s":"r","g":"bE","x":551150,"y":587},
{"s":"r","g":"bG","x":551201,"y":588},{"s":"r","g":"bG","x":551405,"y":586},{"s":"r","g":"bG","x":551507,"y":588},{"s":"r","g":"bG","x":552472,"y":587},{"s":"r","g":"bG","x":553142,"y":588},
{"s":"r","g":"bH","x":553314,"y":588},{"s":"r","g":"bH","x":553385,"y":588},
{"s":"r","g":"bI","x":553690,"y":587},{"s":"r","g":"bI","x":553842,"y":587},
{"s":"r","g":"bJ","x":554989,"y":588},{"s":"r","g":"bJ","x":555054,"y":588},
{"s":"r","g":"bK","x":555165,"y":584},{"s":"r","g":"bK","x":555641,"y":584},
{"s":"r","g":"bL","x":555692,"y":584},{"s":"r","g":"bL","x":556618,"y":584},{"s":"r","g":"bL","x":556700,"y":584},{"s":"r","g":"bL","x":556831,"y":554},{"s":"r","g":"bL","x":556913,"y":552},{"s":"r","g":"bL","x":557897,"y":552},

{"s":"n","g":"bA","x":548001,"y":589},{"s":"n","g":"bA","x":548255,"y":589},{"s":"n","g":"bA","x":548357,"y":592},{"s":"n","g":"bA","x":548916,"y":594},{"s":"n","g":"bA","x":549240,"y":590},
{"s":"n","g":"bB","x":549322,"y":590},{"s":"n","g":"bB","x":549373,"y":590},
{"s":"n","g":"bC","x":549403,"y":590},{"s":"n","g":"bC","x":549484,"y":590},
{"s":"n","g":"bD","x":550582,"y":590},{"s":"n","g":"bD","x":550673,"y":590},
{"s":"n","g":"bE","x":550724,"y":592},{"s":"n","g":"bE","x":550887,"y":595},{"s":"n","g":"bE","x":551029,"y":597},{"s":"n","g":"bE","x":551150,"y":593},
{"s":"n","g":"bG","x":551201,"y":590},{"s":"n","g":"bG","x":551405,"y":589},{"s":"n","g":"bG","x":551507,"y":590},{"s":"n","g":"bG","x":552472,"y":591},{"s":"n","g":"bG","x":553142,"y":590},
{"s":"n","g":"bH","x":553314,"y":590},{"s":"n","g":"bH","x":553385,"y":590},
{"s":"n","g":"bI","x":553690,"y":590},{"s":"n","g":"bI","x":553842,"y":590},
{"s":"n","g":"bJ","x":554989,"y":592},{"s":"n","g":"bJ","x":555054,"y":592},
{"s":"n","g":"bK","x":555165,"y":591},{"s":"n","g":"bK","x":555641,"y":591},
{"s":"n","g":"bL","x":555692,"y":590},{"s":"n","g":"bL","x":556618,"y":590},{"s":"n","g":"bL","x":556700,"y":593},{"s":"n","g":"bL","x":556831,"y":572},{"s":"n","g":"bL","x":556913,"y":569},{"s":"n","g":"bL","x":557897,"y":570},

{"s":"c","g":"bA","x":548001,"y":584},{"s":"c","g":"bA","x":548255,"y":582},{"s":"c","g":"bA","x":548357,"y":588},{"s":"c","g":"bA","x":548916,"y":588},{"s":"c","g":"bA","x":549240,"y":585},
{"s":"c","g":"bB","x":549322,"y":584},{"s":"c","g":"bB","x":549373,"y":584},
{"s":"c","g":"bC","x":549403,"y":584},{"s":"c","g":"bC","x":549484,"y":584},
{"s":"c","g":"bD","x":550582,"y":585},{"s":"c","g":"bD","x":550673,"y":585},
{"s":"c","g":"bE","x":550724,"y":585},{"s":"c","g":"bE","x":550887,"y":590},{"s":"c","g":"bE","x":551029,"y":594},{"s":"c","g":"bE","x":551150,"y":591},
{"s":"c","g":"bG","x":551201,"y":584},{"s":"c","g":"bG","x":551405,"y":580},{"s":"c","g":"bG","x":551507,"y":584},{"s":"c","g":"bG","x":552472,"y":584},{"s":"c","g":"bG","x":553142,"y":584},
{"s":"c","g":"bH","x":553314,"y":584},{"s":"c","g":"bH","x":553385,"y":584},
{"s":"c","g":"bI","x":553690,"y":585},{"s":"c","g":"bI","x":553842,"y":585},
{"s":"c","g":"bJ","x":554989,"y":584},{"s":"c","g":"bJ","x":555054,"y":584},
{"s":"c","g":"bK","x":555165,"y":589},{"s":"c","g":"bK","x":555641,"y":589},
{"s":"c","g":"bL","x":555692,"y":589},{"s":"c","g":"bL","x":556618,"y":589},{"s":"c","g":"bL","x":556700,"y":590},{"s":"c","g":"bL","x":556831,"y":558},{"s":"c","g":"bL","x":556913,"y":556},{"s":"c","g":"bL","x":557897,"y":556},

{"s":"y","g":"bA","x":548001,"y":581},{"s":"y","g":"bA","x":548255,"y":572},{"s":"y","g":"bA","x":548357,"y":582},{"s":"y","g":"bA","x":548916,"y":582},{"s":"y","g":"bA","x":549240,"y":580},
{"s":"y","g":"bD","x":550582,"y":581},{"s":"y","g":"bD","x":550673,"y":581},
{"s":"y","g":"bE","x":550724,"y":581},{"s":"y","g":"bE","x":550887,"y":584},{"s":"y","g":"bE","x":551029,"y":586},{"s":"y","g":"bE","x":551150,"y":585},
{"s":"y","g":"bG","x":551201,"y":582},{"s":"y","g":"bG","x":551405,"y":576},{"s":"y","g":"bG","x":551507,"y":583},{"s":"y","g":"bG","x":552472,"y":582},{"s":"y","g":"bG","x":553142,"y":582},
{"s":"y","g":"bK","x":555165,"y":587},{"s":"y","g":"bK","x":555641,"y":587},
{"s":"y","g":"bL","x":555692,"y":585},{"s":"y","g":"bL","x":556618,"y":585},{"s":"y","g":"bL","x":556700,"y":587},{"s":"y","g":"bL","x":556831,"y":550},{"s":"y","g":"bL","x":556913,"y":547},{"s":"y","g":"bL","x":557897,"y":547},

{"s":"v","g":"bA","x":548001,"y":585},{"s":"v","g":"bA","x":548255,"y":584},{"s":"v","g":"bA","x":548357,"y":585},{"s":"v","g":"bA","x":548916,"y":585},{"s":"v","g":"bA","x":549240,"y":584},
{"s":"v","g":"bD","x":550582,"y":583},{"s":"v","g":"bD","x":550673,"y":583},
{"s":"v","g":"bE","x":550724,"y":583},{"s":"v","g":"bE","x":550887,"y":586},{"s":"v","g":"bE","x":551029,"y":588},{"s":"v","g":"bE","x":551150,"y":584},
{"s":"v","g":"bG","x":551201,"y":583},{"s":"v","g":"bG","x":551405,"y":582},{"s":"v","g":"bG","x":551507,"y":583},{"s":"v","g":"bG","x":552472,"y":583},{"s":"v","g":"bG","x":553142,"y":583},
{"s":"v","g":"bK","x":555165,"y":584},{"s":"v","g":"bK","x":555641,"y":584},
{"s":"v","g":"bL","x":555692,"y":583},{"s":"v","g":"bL","x":556618,"y":583},{"s":"v","g":"bL","x":556700,"y":585},{"s":"v","g":"bL","x":556831,"y":561},{"s":"v","g":"bL","x":556913,"y":559},{"s":"v","g":"bL","x":557897,"y":559},

{"s":"q","g":"bA","x":548001,"y":587},{"s":"q","g":"bA","x":548255,"y":586},{"s":"q","g":"bA","x":548357,"y":590},{"s":"q","g":"bA","x":548916,"y":591},{"s":"q","g":"bA","x":549240,"y":589},
{"s":"q","g":"bD","x":550582,"y":589},{"s":"q","g":"bD","x":550673,"y":589},
{"s":"q","g":"bE","x":550724,"y":589},{"s":"q","g":"bE","x":550887,"y":592},{"s":"q","g":"bE","x":551029,"y":595},{"s":"q","g":"bE","x":551150,"y":592},
{"s":"q","g":"bG","x":551201,"y":589},{"s":"q","g":"bG","x":551405,"y":587},{"s":"q","g":"bG","x":551507,"y":589},{"s":"q","g":"bG","x":552472,"y":588},{"s":"q","g":"bG","x":553142,"y":589},
{"s":"q","g":"bK","x":555165,"y":590},{"s":"q","g":"bK","x":555641,"y":590},
{"s":"q","g":"bL","x":555692,"y":588},{"s":"q","g":"bL","x":556618,"y":588},{"s":"q","g":"bL","x":556700,"y":591},{"s":"q","g":"bL","x":556831,"y":553},{"s":"q","g":"bL","x":556913,"y":551},{"s":"q","g":"bL","x":557897,"y":550},

{"s":"d","g":"bA","x":548001,"y":590},{"s":"d","g":"bA","x":548255,"y":591},{"s":"d","g":"bA","x":548357,"y":593},{"s":"d","g":"bA","x":548916,"y":593},{"s":"d","g":"bA","x":549240,"y":591},
{"s":"d","g":"bD","x":550582,"y":591},{"s":"d","g":"bD","x":550673,"y":591},
{"s":"d","g":"bE","x":550724,"y":591},{"s":"d","g":"bE","x":550887,"y":593},{"s":"d","g":"bE","x":551029,"y":596},{"s":"d","g":"bE","x":551150,"y":594},
{"s":"d","g":"bG","x":551201,"y":591},{"s":"d","g":"bG","x":551405,"y":590},{"s":"d","g":"bG","x":551507,"y":591},{"s":"d","g":"bG","x":552472,"y":590},{"s":"d","g":"bG","x":553142,"y":591},
{"s":"d","g":"bK","x":555165,"y":590},{"s":"d","g":"bK","x":555641,"y":590},
{"s":"d","g":"bL","x":555692,"y":589},{"s":"d","g":"bL","x":556618,"y":589},{"s":"d","g":"bL","x":556700,"y":592},{"s":"d","g":"bL","x":556831,"y":564},{"s":"d","g":"bL","x":556913,"y":563},{"s":"d","g":"bL","x":557897,"y":562},

{"s":"k","g":"y1a","x":548001,"y":555},{"s":"k","g":"y1a","x":549240,"y":555},
{"s":"k","g":"y1b","x":549322,"y":555},{"s":"k","g":"y1b","x":549373,"y":555},
{"s":"k","g":"y1c","x":549403,"y":555},{"s":"k","g":"y1c","x":549484,"y":555},
{"s":"k","g":"y1d","x":550582,"y":555},{"s":"k","g":"y1d","x":550673,"y":555},
{"s":"k","g":"y1e","x":550724,"y":555},{"s":"k","g":"y1e","x":551150,"y":555},
{"s":"k","g":"y1g","x":551201,"y":555},{"s":"k","g":"y1g","x":553142,"y":555},
{"s":"k","g":"y1h","x":553314,"y":555},{"s":"k","g":"y1h","x":553385,"y":555},
{"s":"k","g":"y1i","x":553690,"y":555},{"s":"k","g":"y1i","x":553842,"y":555},
{"s":"k","g":"y1j","x":554989,"y":555},{"s":"k","g":"y1j","x":555054,"y":555},
{"s":"k","g":"y1k","x":555165,"y":555},{"s":"k","g":"y1k","x":555641,"y":555},
{"s":"k","g":"y1l","x":555692,"y":555},{"s":"k","g":"y1l","x":557897,"y":555},
{"s":"k","g":"y2a","x":548001,"y":562},{"s":"k","g":"y2a","x":549240,"y":562},
{"s":"k","g":"y2b","x":549322,"y":562},{"s":"k","g":"y2b","x":549373,"y":562},
{"s":"k","g":"y2c","x":549403,"y":562},{"s":"k","g":"y2c","x":549484,"y":562},
{"s":"k","g":"y2d","x":550582,"y":562},{"s":"k","g":"y2d","x":550673,"y":562},
{"s":"k","g":"y2e","x":550724,"y":562},{"s":"k","g":"y2e","x":551150,"y":562},
{"s":"k","g":"y2g","x":551201,"y":562},{"s":"k","g":"y2g","x":553142,"y":562},
{"s":"k","g":"y2h","x":553314,"y":562},{"s":"k","g":"y2h","x":553385,"y":562},
{"s":"k","g":"y2i","x":553690,"y":562},{"s":"k","g":"y2i","x":553842,"y":562},
{"s":"k","g":"y2j","x":554989,"y":562},{"s":"k","g":"y2j","x":555054,"y":562},
{"s":"k","g":"y2k","x":555165,"y":562},{"s":"k","g":"y2k","x":555641,"y":562},
{"s":"k","g":"y2l","x":555692,"y":562},{"s":"k","g":"y2l","x":557897,"y":562},
{"s":"k","g":"y3l","x":556831,"y":578},{"s":"k","g":"y3l","x":557897,"y":578}
]
},
"layer":[
{"data":{"name":"ex"},"mark":{"type":"line","strokeWidth":1,"interpolate":"step"},
 "encoding":{
  "x":{"field":"x","type":"quantitative","scale":{"domain":[547793,558198],"nice":false,"zero":false},"axis":null},
  "y":{"field":"y","type":"quantitative","scale":{"domain":[-0.5,610.5],"reverse":true,"nice":false,"zero":false},"axis":null},
  "detail":{"field":"g"},
  "color":{"field":"s","type":"nominal","legend":null,"scale":{"domain":["k","o","t","p","m","b","g","r","n","c","y","v","q","d"],"range":["#000000","#808000","#ff6347","#cd853f","#a01890","#70b8f0","#66dd00","#c890a0","#8b5a3c","#d2691e","#9acd32","#c71585","#ff4500","#b8860b"]}}
 }},
{"data":{"name":"hl"},"mark":{"type":"rule","strokeWidth":1},
 "encoding":{
  "x":{"field":"x","type":"quantitative","axis":null},"x2":{"field":"x2"},
  "y":{"field":"y","type":"quantitative","axis":null},
  "color":{"field":"k","type":"nominal","legend":null,"scale":{"domain":["black","red"],"range":["#000000","#ff0000"]}}
 }},
{"data":{"name":"vl"},"mark":{"type":"rule","strokeWidth":1},
 "encoding":{
  "x":{"field":"x","type":"quantitative","axis":null},
  "y":{"field":"y","type":"quantitative","axis":null},"y2":{"field":"y2"},
  "color":{"field":"k","type":"nominal","legend":null,"scale":{"domain":["black","red"],"range":["#000000","#ff0000"]}}
 }},
{"data":{"name":"rects"},"mark":{"type":"rect","strokeWidth":1},
 "encoding":{
  "x":{"field":"x","type":"quantitative","axis":null},"x2":{"field":"x2"},
  "y":{"field":"y","type":"quantitative","axis":null},"y2":{"field":"y2"},
  "fill":{"field":"k","type":"nominal","legend":null,"scale":{"domain":["m1","m2","m3","m4","blue","green","redbox","term","termo"],"range":["#f26a50","#fbded4","#ffffff","#ffffff","#ffffff","#00ee00","#ffffff","#ff0000","#ffffff"]}},
  "stroke":{"field":"k","type":"nominal","legend":null,"scale":{"domain":["m1","m2","m3","m4","blue","green","redbox","term","termo"],"range":["#f26a50","#fbded4","#f8d0c4","#c00000","#0000ee","#00ee00","#ff0000","#ff0000","#ff0000"]}}
 }},
{"data":{"name":"arrows"},"mark":{"type":"line","color":"#000000","strokeWidth":1},
 "encoding":{
  "x":{"field":"x","type":"quantitative","axis":null},
  "y":{"field":"y","type":"quantitative","axis":null},
  "detail":{"field":"g"},
  "order":{"field":"i","type":"quantitative"}
 }},
{"data":{"name":"flags"},"mark":{"type":"point","shape":"M0,0L2,0L0,1.3Z","size":121,"filled":true,"color":"#ff0000","opacity":1,"strokeWidth":0},
 "encoding":{
  "x":{"field":"x","type":"quantitative","axis":null},
  "y":{"field":"y","type":"quantitative","axis":null}
 }},
{"data":{"name":"txtL"},"mark":{"type":"text","align":"left","baseline":"middle"},
 "encoding":{
  "x":{"field":"x","type":"quantitative","axis":null},
  "y":{"field":"y","type":"quantitative","axis":null},
  "text":{"field":"t"}
 }},
{"data":{"name":"txtC"},"mark":{"type":"text","align":"center","baseline":"middle"},
 "encoding":{
  "x":{"field":"x","type":"quantitative","axis":null},
  "y":{"field":"y","type":"quantitative","axis":null},
  "text":{"field":"t"}
 }},
{"data":{"name":"txtR"},"mark":{"type":"text","align":"right","baseline":"middle"},
 "encoding":{
  "x":{"field":"x","type":"quantitative","axis":null},
  "y":{"field":"y","type":"quantitative","axis":null},
  "text":{"field":"t"}
 }}
]
}
